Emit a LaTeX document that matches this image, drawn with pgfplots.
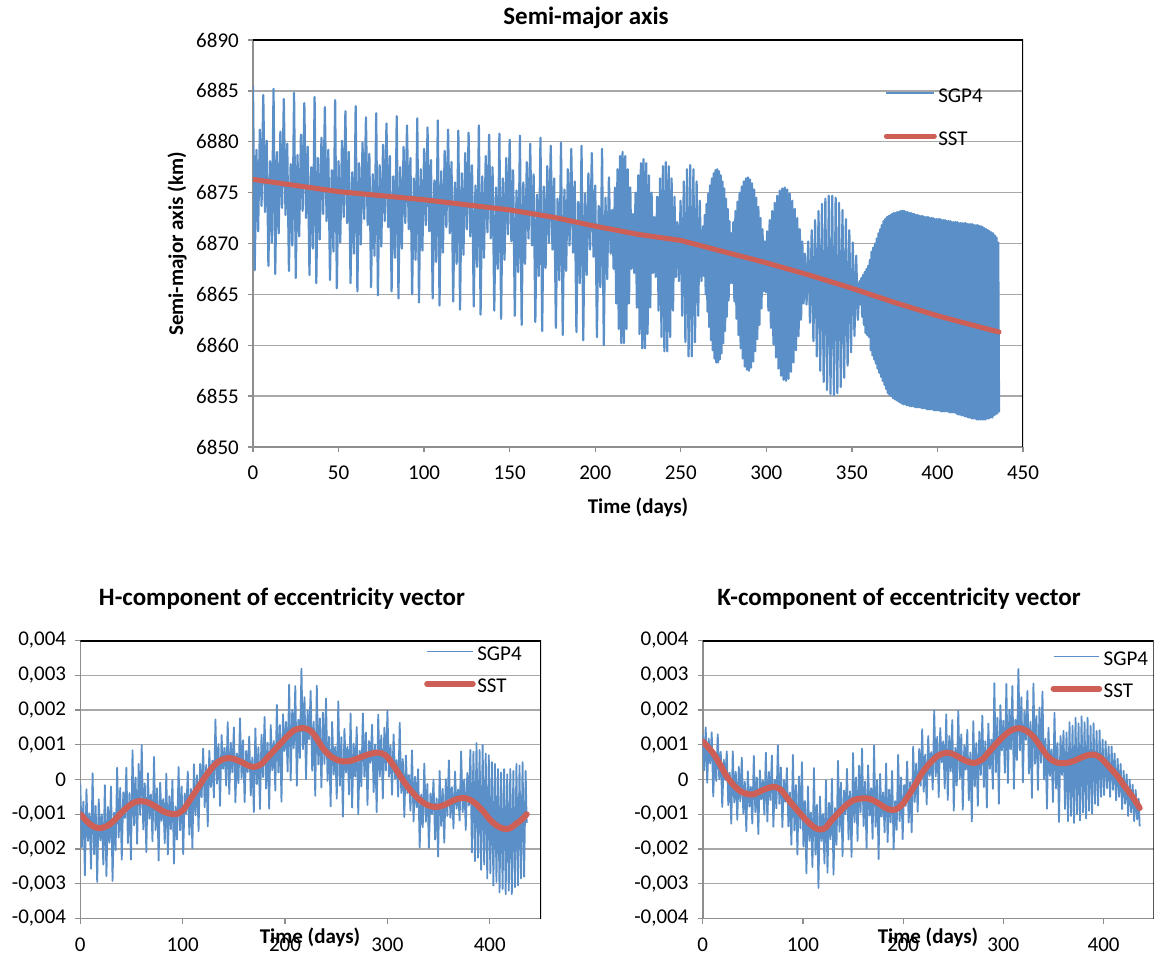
\documentclass[border=0pt]{standalone}
\usepackage{fontspec}
\setmainfont{Carlito}
\usepackage{pgfplots}
\pgfplotsset{compat=1.18}

\definecolor{sgpblue}{HTML}{5A8FC8}
\definecolor{sstred}{HTML}{CD5F57}
\definecolor{gridgray}{HTML}{A8A8A8}
\definecolor{axisgray}{HTML}{8E8E8E}

\newcommand{\ticksize}{\fontsize{21}{24}\selectfont}
\newcommand{\labsize}{\fontsize{21}{24}\selectfont\bfseries}
\newcommand{\titsize}{\fontsize{25}{30}\selectfont\bfseries}

\pgfplotsset{
  excel/.style={
    scale only axis,
    axis x line*=bottom, axis y line*=left,
    axis line style={axisgray, line width=1.6pt},
    tick style={axisgray, line width=1.3pt},
    tick align=outside,
    major tick length=5pt,
    ymajorgrids,
    grid style={gridgray, line width=1.3pt},
    xmin=0, xmax=450,
    scaled ticks=false,
    tick label style={font=\ticksize, inner sep=0pt},
    yticklabel style={xshift=-9pt},
    xticklabel style={yshift=-14pt},
    legend style={draw=none, fill=none, font=\ticksize, inner sep=0pt,
      nodes={inner sep=1.5pt}},
    legend cell align=left,
  },
  sgp/.style={sgpblue, line join=round},
  sst/.style={sstred, line cap=round, line join=round},
}

\begin{document}
\begin{tikzpicture}[x=1pt, y=1pt]
\path[use as bounding box] (0,0) rectangle (1158,959);

% ---------------- semi-major axis ----------------
\begin{axis}[excel,
  at={(253pt,512pt)}, anchor=south west, width=770pt, height=407pt,
  ymin=6850, ymax=6890,
  ytick={6850,6855,6860,6865,6870,6875,6880,6885,6890},
  yticklabels={6850,6855,6860,6865,6870,6875,6880,6885,6890},
  xtick={0,50,100,150,200,250,300,350,400,450},
  xticklabels={0,50,100,150,200,250,300,350,400,450},
  legend style={at={(rel axis cs:0.819,0.885)}, anchor=north west, row sep=25pt},
  legend image code/.code={\draw[#1] (2.5pt,3pt) -- (50.5pt,3pt);},
]
\addplot[sgp, line width=2.2pt] coordinates {
(0,6885.5) (1,6867.4) (2,6879.2) (3,6871.2) (4,6881.2) (5,6873.7)
(6,6884.6) (7,6873.1) (8,6880.1) (9,6867.8) (10,6878.1) (11,6870.1)
(12,6885.2) (13,6867.0) (14,6879.0) (15,6871.0) (16,6881.0) (17,6873.5)
(18,6884.2) (19,6872.8) (20,6879.8) (21,6867.3) (22,6877.8) (23,6869.8)
(24,6884.8) (25,6866.6) (26,6878.7) (27,6870.7) (28,6880.7) (29,6873.2)
(30,6883.8) (31,6872.5) (32,6879.5) (33,6866.9) (34,6877.5) (35,6869.5)
(36,6884.4) (37,6866.1) (38,6878.4) (39,6870.4) (40,6880.4) (41,6872.9)
(42,6883.4) (43,6872.2) (44,6879.2) (45,6866.4) (46,6877.2) (47,6869.2)
(48,6884.1) (49,6865.6) (50,6878.1) (51,6870.1) (52,6880.1) (53,6872.6)
(54,6883.0) (55,6872.0) (56,6879.0) (57,6866.1) (58,6877.0) (59,6869.0)
(60,6883.5) (61,6865.3) (62,6877.9) (63,6869.9) (64,6879.9) (65,6872.4)
(66,6882.4) (67,6871.8) (68,6878.8) (69,6865.7) (70,6876.8) (71,6868.8)
(72,6882.8) (73,6864.9) (74,6877.7) (75,6869.7) (76,6879.7) (77,6872.2)
(78,6881.8) (79,6871.6) (80,6878.6) (81,6865.3) (82,6876.6) (83,6868.6)
(84,6882.5) (85,6864.6) (86,6877.5) (87,6869.5) (88,6879.5) (89,6872.0)
(90,6881.6) (91,6871.4) (92,6878.4) (93,6865.0) (94,6876.4) (95,6868.4)
(96,6882.3) (97,6864.2) (98,6877.3) (99,6869.3) (100,6879.3) (101,6871.8)
(102,6881.4) (103,6871.2) (104,6878.2) (105,6864.6) (106,6876.2) (107,6868.2)
(108,6882.1) (109,6863.9) (110,6877.1) (111,6869.1) (112,6879.1) (113,6871.6)
(114,6881.2) (115,6871.0) (116,6878.0) (117,6864.3) (118,6876.0) (119,6868.0)
(120,6881.1) (121,6863.5) (122,6876.9) (123,6868.9) (124,6878.9) (125,6871.4)
(126,6880.9) (127,6870.7) (128,6877.7) (129,6863.8) (130,6875.7) (131,6867.7)
(132,6881.6) (133,6863.0) (134,6876.6) (135,6868.6) (136,6878.6) (137,6871.1)
(138,6880.7) (139,6870.5) (140,6877.5) (141,6863.4) (142,6875.5) (143,6867.5)
(144,6880.8) (145,6862.6) (146,6876.4) (147,6868.4) (148,6878.4) (149,6870.9)
(150,6880.2) (151,6870.2) (152,6877.2) (153,6862.9) (154,6875.2) (155,6867.2)
(156,6880.6) (157,6862.0) (158,6876.0) (159,6868.0) (160,6878.0) (161,6870.5)
(162,6879.8) (163,6869.8) (164,6876.8) (165,6862.3) (166,6874.8) (167,6866.8)
(168,6880.4) (169,6861.4) (170,6875.6) (171,6867.6) (172,6877.6) (173,6870.1)
(174,6879.6) (175,6869.4) (176,6876.4) (177,6861.7) (178,6874.4) (179,6866.4)
(180,6879.9) (181,6861.0) (182,6875.3) (183,6867.3) (184,6877.3) (185,6869.8)
(186,6879.3) (187,6869.1) (188,6876.1) (189,6861.3) (190,6874.1) (191,6866.1)
(192,6879.6) (193,6860.5) (194,6874.9) (195,6866.9) (196,6876.9) (197,6869.4)
(198,6878.9) (199,6868.7) (200,6875.7) (201,6860.8) (202,6873.7) (203,6865.7)
(204,6879.3) (205,6860.0) (206,6874.5) (207,6866.5) (208,6876.5) (209,6869.0)
(210,6873.3) (210.75,6867.5) (211.5,6875.5) (212.25,6864.1) (213,6877.3) (213.75,6861.6)
(214.5,6878.6) (215.25,6860.2) (216,6879.0) (216.75,6860.2) (217.5,6878.6) (218.25,6861.6)
(219,6877.3) (219.75,6864.1) (220.5,6875.5) (221.25,6867.5)
(222,6872.9) (222.78,6867.1) (223.56,6875.0) (224.34,6863.7) (225.13,6876.7) (225.91,6861.1)
(226.69,6877.9) (227.47,6859.7) (228.25,6878.3) (229.03,6859.7) (229.81,6877.9) (230.59,6861.1)
(231.38,6876.7) (232.16,6863.7) (232.94,6875.0) (233.72,6867.1)
(234.5,6872.6) (235.34,6866.7) (236.19,6874.6) (237.03,6863.4) (237.88,6876.4) (238.72,6860.8)
(239.56,6877.6) (240.41,6859.4) (241.25,6878.0) (242.09,6859.4) (242.94,6877.6) (243.78,6860.8)
(244.63,6876.4) (245.47,6863.4) (246.31,6874.6) (247.16,6866.7)
(248,6872.1) (248.94,6866.3) (249.88,6874.2) (250.81,6862.9) (251.75,6876.1) (252.69,6860.3)
(253.63,6877.3) (254.56,6858.9) (255.5,6877.7) (256.44,6858.9) (257.38,6877.3) (258.31,6860.3)
(259.25,6876.1) (260.19,6862.9) (261.13,6874.2) (262.06,6866.3)
(263.00,6871.7) (263.52,6866.8) (264.03,6872.8) (264.55,6865.0) (265.06,6873.9) (265.58,6863.3)
(266.09,6874.9) (266.61,6861.8) (267.13,6875.7) (267.64,6860.5) (268.16,6876.4) (268.67,6859.5)
(269.19,6876.9) (269.70,6858.7) (270.22,6877.2) (270.73,6858.3) (271.25,6877.3) (271.77,6858.3)
(272.28,6877.1) (272.80,6858.6) (273.31,6876.7) (273.83,6859.2) (274.34,6876.1) (274.86,6860.2)
(275.38,6875.4) (275.89,6861.4) (276.41,6874.4) (276.92,6862.8) (277.44,6873.4) (277.95,6864.4)
(278.47,6872.2) (278.98,6866.1)
(279.50,6871.0) (280.11,6866.1) (280.72,6872.1) (281.33,6864.3) (281.94,6873.2) (282.55,6862.6)
(283.16,6874.1) (283.77,6861.0) (284.38,6875.0) (284.98,6859.7) (285.59,6875.6) (286.20,6858.7)
(286.81,6876.1) (287.42,6857.9) (288.03,6876.4) (288.64,6857.6) (289.25,6876.5) (289.86,6857.5)
(290.47,6876.3) (291.08,6857.8) (291.69,6875.9) (292.30,6858.4) (292.91,6875.3) (293.52,6859.4)
(294.13,6874.5) (294.73,6860.6) (295.34,6873.6) (295.95,6862.0) (296.56,6872.5) (297.17,6863.6)
(297.78,6871.4) (298.39,6865.3)
(299.00,6870.2) (299.73,6865.2) (300.47,6871.2) (301.20,6863.4) (301.94,6872.3) (302.67,6861.7)
(303.41,6873.2) (304.14,6860.1) (304.88,6874.0) (305.61,6858.8) (306.34,6874.7) (307.08,6857.7)
(307.81,6875.2) (308.55,6857.0) (309.28,6875.4) (310.02,6856.6) (310.75,6875.5) (311.48,6856.5)
(312.22,6875.3) (312.95,6856.7) (313.69,6874.9) (314.42,6857.4) (315.16,6874.2) (315.89,6858.3)
(316.63,6873.4) (317.36,6859.5) (318.09,6872.5) (318.83,6860.9) (319.56,6871.4) (320.30,6862.5)
(321.03,6870.2) (321.77,6864.1)
(322.5,6869.0) (323.5,6864.0) (324.5,6870.2) (325.5,6862.2) (326.5,6871.3) (327.5,6860.4)
(328.5,6872.3) (329.5,6858.9) (330.5,6873.2) (331.5,6857.5) (332.5,6873.9) (333.5,6856.4)
(334.5,6874.4) (335.5,6855.6) (336.5,6874.7) (337.5,6855.2) (338.5,6874.7) (339.5,6855.1)
(340.5,6874.5) (341.5,6855.3) (342.5,6874.0) (343.5,6855.9) (344.5,6873.3) (345.5,6856.8)
(346.5,6872.4) (347.5,6858.0) (348.5,6871.3) (349.5,6859.3) (350.5,6870.1) (351.5,6860.9)
(352.5,6868.8) (353.5,6862.5)
(354.5,6866.3) (355,6864.0) (355.5,6866.6) (356,6862.8) (356.5,6866.9) (357,6862.0)
(357.5,6867.2) (358,6861.2) (358.5,6867.5) (359,6861.0) (359.5,6867.8) (360,6860.8)
(360.5,6868.4) (361,6859.5) (361.5,6869.2) (362,6859.0) (362.5,6869.6) (363,6858.6)
(363.5,6870.0) (364,6858.2) (364.5,6870.5) (365,6857.7) (365.5,6871.0) (366,6857.3)
(366.5,6871.4) (367,6856.9) (367.5,6871.8) (368,6856.5) (368.5,6872.2) (369,6856.1)
(369.5,6872.4) (370,6855.7) (370.5,6872.6) (371,6855.3) (371.5,6872.7) (372,6855.1)
(372.5,6872.8) (373,6855.0) (373.5,6872.9) (374,6854.8) (374.5,6873.0) (375,6854.7)
(375.5,6873.0) (376,6854.6) (376.5,6873.1) (377,6854.5) (377.5,6873.1) (378,6854.4)
(378.5,6873.2) (379,6854.3) (379.5,6873.2) (380,6854.2) (380.5,6873.2) (381,6854.2)
(381.5,6873.1) (382,6854.1) (382.5,6873.1) (383,6854.1) (383.5,6873.0) (384,6854.0)
(384.5,6873.0) (385,6854.0) (385.5,6872.9) (386,6854.0) (386.5,6872.9) (387,6853.9)
(387.5,6872.8) (388,6853.9) (388.5,6872.8) (389,6853.9) (389.5,6872.7) (390,6853.9)
(390.5,6872.7) (391,6853.8) (391.5,6872.7) (392,6853.8) (392.5,6872.6) (393,6853.8)
(393.5,6872.6) (394,6853.7) (394.5,6872.6) (395,6853.7) (395.5,6872.5) (396,6853.7)
(396.5,6872.5) (397,6853.7) (397.5,6872.5) (398,6853.6) (398.5,6872.4) (399,6853.6)
(399.5,6872.4) (400,6853.6) (400.5,6872.4) (401,6853.6) (401.5,6872.4) (402,6853.5)
(402.5,6872.3) (403,6853.5) (403.5,6872.3) (404,6853.5) (404.5,6872.3) (405,6853.5)
(405.5,6872.2) (406,6853.5) (406.5,6872.2) (407,6853.4) (407.5,6872.2) (408,6853.4)
(408.5,6872.1) (409,6853.4) (409.5,6872.1) (410,6853.4) (410.5,6872.1) (411,6853.3)
(411.5,6872.1) (412,6853.2) (412.5,6872.0) (413,6853.2) (413.5,6872.0) (414,6853.1)
(414.5,6872.0) (415,6853.1) (415.5,6872.0) (416,6853.0) (416.5,6872.0) (417,6853.0)
(417.5,6871.9) (418,6852.9) (418.5,6871.9) (419,6852.9) (419.5,6871.9) (420,6852.8)
(420.5,6871.9) (421,6852.8) (421.5,6871.8) (422,6852.8) (422.5,6871.8) (423,6852.7)
(423.5,6871.8) (424,6852.7) (424.5,6871.7) (425,6852.7) (425.5,6871.7) (426,6852.7)
(426.5,6871.6) (427,6852.7) (427.5,6871.5) (428,6852.7) (428.5,6871.4) (429,6852.8)
(429.5,6871.3) (430,6852.8) (430.5,6871.2) (431,6852.9) (431.5,6871.1) (432,6852.9)
(432.5,6871.0) (433,6853.1) (433.5,6870.8) (434,6853.2) (434.5,6870.6) (435,6853.3)
(435.5,6870.1) (436,6853.4)
};
\addplot[sst, line width=5pt] coordinates {
(0,6876.3) (25,6875.7) (50,6875.1) (75,6874.7) (100,6874.3) (125,6873.8)
(150,6873.3) (175,6872.6) (200,6871.7) (225,6870.9) (250,6870.3) (275,6869.2)
(300,6868.1) (325,6866.9) (350,6865.6) (375,6864.2) (400,6862.9) (420,6862.0)
(436,6861.3)
};
\legend{SGP4,SST}
\draw[black, line width=2pt] (rel axis cs:0,1) -- (rel axis cs:1,1) -- (rel axis cs:1,0);
\end{axis}

\node[font=\titsize, anchor=base] at (586,934) {Semi-major axis};
\node[font=\labsize, anchor=base] at (638,445) {Time (days)};
\node[font=\labsize, anchor=base, rotate=90] at (183,715) {Semi-major axis (km)};

% ---------------- H component ----------------
\begin{axis}[excel,
  at={(80.3pt,40.5pt)}, anchor=south west, width=460.7pt, height=278pt,
  ymin=-0.004, ymax=0.004,
  ytick={-0.004,-0.003,-0.002,-0.001,0,0.001,0.002,0.003,0.004},
  yticklabels={{-0,004},{-0,003},{-0,002},{-0,001},{0},{0,001},{0,002},{0,003},{0,004}},
  xtick={0,100,200,300,400},
  xticklabels={0,100,200,300,400},
  legend style={at={(rel axis cs:0.746,0.983)}, anchor=north west, row sep=14pt},
  legend image code/.code={\draw[#1] (3pt,3pt) -- (48.6pt,3pt);},
]
\addplot[sgp, line width=1.8pt] coordinates {
(0,-0.00010) (1.5,-0.00195) (3,-0.00064) (4.5,-0.00276) (6,-0.00028) (7.5,-0.00177) (9,-0.00097) (10.5,-0.00257)
(12,0.00018) (13.5,-0.00215) (15,-0.00076) (16.5,-0.00295) (18,-0.00057) (19.5,-0.00175) (21,-0.00100) (22.5,-0.00245)
(24,-0.00016) (25.5,-0.00278) (27,-0.00079) (28.5,-0.00182) (30,-0.00020) (31.5,-0.00292) (33,-0.00095) (34.5,-0.00203)
(36,0.00034) (37.5,-0.00167) (39,-0.00024) (40.5,-0.00231) (42,-0.00037) (43.5,-0.00111) (45,0.00034) (46.5,-0.00183)
(48,-0.00039) (49.5,-0.00231) (51,0.00084) (52.5,-0.00132) (54,0.00006) (55.5,-0.00185) (57,0.00045) (58.5,-0.00102)
(60,0.00099) (61.5,-0.00144) (63,-0.00011) (64.5,-0.00209) (66,0.00018) (67.5,-0.00113) (69,-0.00043) (70.5,-0.00178)
(72,0.00065) (73.5,-0.00146) (75,-0.00025) (76.5,-0.00233) (78,-0.00009) (79.5,-0.00119) (81,-0.00056) (82.5,-0.00183)
(84,0.00017) (85.5,-0.00216) (87,-0.00048) (88.5,-0.00143) (90,-0.00001) (91.5,-0.00242) (93,-0.00078) (94.5,-0.00173)
(96,0.00036) (97.5,-0.00146) (99,-0.00020) (100.5,-0.00215) (102,-0.00040) (103.5,-0.00098) (105,0.00023) (106.5,-0.00159)
(108,-0.00027) (109.5,-0.00198) (111,0.00044) (112.5,-0.00103) (114,0.00012) (115.5,-0.00149) (117,0.00045) (118.5,-0.00051)
(120,0.00089) (121.5,-0.00080) (123,0.00042) (124.5,-0.00135) (126,0.00083) (127.5,-0.00022) (129,0.00054) (130.5,-0.00052)
(132,0.00173) (133.5,-0.00012) (135,0.00102) (136.5,-0.00076) (138,0.00128) (139.5,0.00031) (141,0.00091) (142.5,-0.00018)
(144,0.00165) (145.5,-0.00042) (147,0.00106) (148.5,0.00021) (150,0.00150) (151.5,-0.00066) (153,0.00075) (154.5,-0.00011)
(156,0.00176) (157.5,0.00004) (159,0.00113) (160.5,-0.00065) (162,0.00082) (163.5,0.00021) (165,0.00124) (166.5,-0.00046)
(168,0.00063) (169.5,-0.00094) (171,0.00147) (172.5,-0.00013) (174,0.00093) (175.5,-0.00085) (177,0.00129) (178.5,0.00007)
(180,0.00180) (181.5,-0.00026) (183,0.00106) (184.5,-0.00084) (186,0.00157) (187.5,0.00027) (189,0.00111) (190.5,-0.00032)
(192,0.00215) (193.5,0.00020) (195,0.00157) (196.5,-0.00064) (198,0.00188) (199.5,0.00082) (201,0.00166) (202.5,0.00023)
(204,0.00273) (205.5,-0.00003) (207,0.00200) (208.5,0.00090) (210,0.00269) (211.5,-0.00018) (213,0.00172) (214.5,0.00062)
(216,0.00319) (217.5,0.00087) (219,0.00237) (220.5,0.00001) (222,0.00199) (223.5,0.00116) (225,0.00255) (226.5,0.00025)
(228,0.00166) (229.5,-0.00047) (231,0.00270) (232.5,0.00043) (234,0.00176) (235.5,-0.00023) (237,0.00193) (238.5,0.00045)
(240,0.00233) (241.5,-0.00004) (243,0.00123) (244.5,-0.00077) (246,0.00166) (247.5,0.00014) (249,0.00094) (250.5,-0.00055)
(252,0.00225) (253.5,-0.00018) (255,0.00122) (256.5,-0.00107) (258,0.00146) (259.5,0.00020) (261,0.00095) (262.5,-0.00043)
(264,0.00190) (265.5,-0.00081) (267,0.00103) (268.5,0.00008) (270,0.00151) (271.5,-0.00100) (273,0.00083) (274.5,-0.00020)
(276,0.00190) (277.5,0.00008) (279,0.00135) (280.5,-0.00073) (282,0.00111) (283.5,0.00048) (285,0.00158) (286.5,-0.00036)
(288,0.00101) (289.5,-0.00094) (291,0.00187) (292.5,0.00008) (294,0.00127) (295.5,-0.00055) (297,0.00149) (298.5,0.00026)
(300,0.00198) (301.5,0.00008) (303,0.00098) (304.5,-0.00044) (306,0.00130) (307.5,0.00003) (309,0.00056) (310.5,-0.00050)
(312,0.00163) (313.5,-0.00039) (315,0.00059) (316.5,-0.00108) (318,0.00069) (319.5,-0.00039) (321,0.00013) (322.5,-0.00090)
(324,0.00084) (325.5,-0.00121) (327,0.00008) (328.5,-0.00080) (330,0.00030) (331.5,-0.00196) (333,-0.00043) (334.5,-0.00137)
(336,0.00046) (337.5,-0.00122) (339,-0.00013) (340.5,-0.00197) (342,-0.00040) (343.5,-0.00099) (345,0.00000) (346.5,-0.00173)
(348,-0.00054) (349.5,-0.00222) (351,0.00025) (352.5,-0.00134) (354,-0.00027) (355.5,-0.00182) (357,0.00001) (358.5,-0.00105)
(360,0.00055) (361.5,-0.00110) (363,-0.00022) (364.5,-0.00141) (366,0.00023) (367.5,-0.00084) (369,-0.00029) (370.5,-0.00118)
(372,0.00081) (373.5,-0.00094) (375,0.00000) (376.5,-0.00145) (378,0.00019) (379.5,-0.00075) (381,0.00085) (382.5,-0.00210)
(384,0.00080) (385.5,-0.00235) (387,0.00105) (388.5,-0.00225) (390,0.00085) (391.5,-0.00260) (393,0.00100) (394.5,-0.00245)
(396,0.00075) (397.5,-0.00285) (399,0.00070) (400.5,-0.00270) (402,0.00050) (403.5,-0.00305) (405,0.00045) (406.5,-0.00295)
(408,0.00030) (409.5,-0.00325) (411,0.00020) (412.5,-0.00315) (414,0.00030) (415.5,-0.00330) (417,0.00015) (418.5,-0.00320)
(420,0.00030) (421.5,-0.00330) (423,0.00025) (424.5,-0.00310) (426,0.00045) (427.5,-0.00305) (429,0.00040) (430.5,-0.00285)
(432,0.00050) (433.5,-0.00280) (435,0.00025) (436,-0.00125)
};
\addplot[sst, line width=6pt, smooth] coordinates {
(0,-0.00100) (10,-0.00130) (18,-0.00140) (26,-0.00134) (33,-0.00118) (40,-0.00096) (50,-0.00070) (58,-0.00062)
(66,-0.00066) (73,-0.00077) (82,-0.00093) (91,-0.00100) (96,-0.00097) (101,-0.00086) (108,-0.00055) (116,-0.00019)
(123,0.00012) (130,0.00038) (137,0.00055) (145,0.00062) (152,0.00057) (159,0.00048) (164,0.00040) (170,0.00036)
(177,0.00045) (184,0.00067) (193,0.00095) (202,0.00124) (209,0.00142) (216,0.00148) (222,0.00145) (227,0.00134)
(232,0.00113) (238,0.00086) (245,0.00066) (252,0.00055) (258,0.00052) (263,0.00053) (272,0.00062) (281,0.00072)
(287,0.00076) (292,0.00077) (298,0.00070) (303,0.00053) (310,0.00022) (317,-0.00010) (324,-0.00036) (331,-0.00057)
(338,-0.00072) (346,-0.00079) (353,-0.00076) (360,-0.00067) (366,-0.00058) (373,-0.00053) (379,-0.00056) (386,-0.00069)
(393,-0.00090) (400,-0.00115) (407,-0.00133) (414,-0.00142) (420,-0.00140) (425,-0.00129) (431,-0.00116) (436,-0.00100)
};
\legend{SGP4,SST}
\draw[black, line width=2pt] (rel axis cs:0,1) -- (rel axis cs:1,1) -- (rel axis cs:1,0);
\end{axis}

\node[font=\titsize, anchor=base] at (282,353) {H-component of eccentricity vector};
\node[font=\labsize, anchor=base] at (310,16) {Time (days)};

% ---------------- K component ----------------
\begin{axis}[excel,
  at={(702.7pt,40.5pt)}, anchor=south west, width=451pt, height=278pt,
  ymin=-0.004, ymax=0.004,
  ytick={-0.004,-0.003,-0.002,-0.001,0,0.001,0.002,0.003,0.004},
  yticklabels={{-0,004},{-0,003},{-0,002},{-0,001},{0},{0,001},{0,002},{0,003},{0,004}},
  xtick={0,100,200,300,400},
  xticklabels={0,100,200,300,400},
  legend style={at={(rel axis cs:0.771,0.965)}, anchor=north west, row sep=14pt},
  legend image code/.code={\draw[#1] (3pt,3pt) -- (48.6pt,3pt);},
]
\addplot[sgp, line width=1.8pt] coordinates {
(0,0.00130) (1.5,0.00027) (3,0.00150) (4.5,-0.00009) (6,0.00118) (7.5,0.00046) (9,0.00136) (10.5,-0.00049)
(12,0.00080) (13.5,-0.00004) (15,0.00130) (16.5,0.00001) (18,0.00080) (19.5,-0.00079) (21,0.00057) (22.5,-0.00001)
(24,0.00081) (25.5,-0.00074) (27,0.00020) (28.5,-0.00127) (30,0.00081) (31.5,-0.00066) (33,0.00022) (34.5,-0.00116)
(36,0.00037) (37.5,-0.00063) (39,0.00063) (40.5,-0.00098) (42,-0.00006) (43.5,-0.00149) (45,0.00024) (46.5,-0.00078)
(48,-0.00021) (49.5,-0.00127) (51,0.00068) (52.5,-0.00094) (54,0.00006) (55.5,-0.00157) (57,0.00026) (58.5,-0.00057)
(60,-0.00003) (61.5,-0.00101) (63,0.00077) (64.5,-0.00121) (66,0.00022) (67.5,-0.00059) (69,0.00069) (70.5,-0.00136)
(72,-0.00001) (73.5,-0.00083) (75,0.00098) (76.5,-0.00070) (78,0.00035) (79.5,-0.00137) (81,-0.00002) (82.5,-0.00064)
(84,0.00033) (85.5,-0.00135) (87,-0.00037) (88.5,-0.00188) (90,0.00071) (91.5,-0.00147) (93,-0.00016) (94.5,-0.00216)
(96,0.00009) (97.5,-0.00141) (99,0.00050) (100.5,-0.00193) (102,-0.00062) (103.5,-0.00270) (105,-0.00020) (106.5,-0.00177)
(108,-0.00095) (109.5,-0.00252) (111,0.00033) (112.5,-0.00216) (114,-0.00073) (115.5,-0.00312) (117,-0.00049) (118.5,-0.00177)
(120,-0.00099) (121.5,-0.00242) (123,-0.00002) (124.5,-0.00268) (126,-0.00067) (127.5,-0.00172) (129,0.00002) (130.5,-0.00274)
(132,-0.00082) (133.5,-0.00188) (135,0.00054) (136.5,-0.00150) (138,-0.00009) (139.5,-0.00221) (141,-0.00032) (142.5,-0.00100)
(144,0.00031) (145.5,-0.00173) (147,-0.00034) (148.5,-0.00223) (150,0.00076) (151.5,-0.00123) (153,0.00006) (154.5,-0.00177)
(156,0.00040) (157.5,-0.00095) (159,0.00089) (160.5,-0.00134) (162,-0.00006) (163.5,-0.00199) (165,0.00041) (166.5,-0.00104)
(168,-0.00025) (169.5,-0.00171) (171,0.00098) (172.5,-0.00136) (174,-0.00002) (175.5,-0.00229) (177,0.00016) (178.5,-0.00107)
(180,-0.00037) (181.5,-0.00152) (183,0.00046) (184.5,-0.00180) (186,-0.00029) (187.5,-0.00123) (189,0.00025) (190.5,-0.00201)
(192,-0.00062) (193.5,-0.00145) (195,0.00071) (196.5,-0.00120) (198,0.00006) (199.5,-0.00172) (201,-0.00016) (202.5,-0.00076)
(204,0.00052) (205.5,-0.00124) (207,-0.00007) (208.5,-0.00152) (210,0.00095) (211.5,-0.00065) (213,0.00046) (214.5,-0.00093)
(216,0.00088) (217.5,-0.00018) (219,0.00145) (220.5,-0.00035) (222,0.00072) (223.5,-0.00072) (225,0.00125) (226.5,0.00010)
(228,0.00079) (229.5,-0.00029) (231,0.00199) (232.5,0.00009) (234,0.00123) (235.5,-0.00051) (237,0.00148) (238.5,0.00049)
(240,0.00110) (241.5,-0.00026) (243,0.00188) (244.5,-0.00059) (246,0.00125) (247.5,0.00024) (249,0.00171) (250.5,-0.00090)
(252,0.00091) (253.5,-0.00017) (255,0.00198) (256.5,0.00003) (258,0.00130) (259.5,-0.00087) (261,0.00098) (262.5,0.00028)
(264,0.00143) (265.5,-0.00060) (267,0.00078) (268.5,-0.00121) (270,0.00168) (271.5,-0.00020) (273,0.00105) (274.5,-0.00076)
(276,0.00138) (277.5,0.00013) (279,0.00184) (280.5,-0.00022) (282,0.00110) (283.5,-0.00081) (285,0.00161) (286.5,0.00031)
(288,0.00115) (289.5,-0.00027) (291,0.00277) (292.5,0.00021) (294,0.00178) (295.5,-0.00070) (297,0.00214) (298.5,0.00084)
(300,0.00169) (301.5,0.00019) (303,0.00275) (304.5,-0.00010) (306,0.00201) (307.5,0.00087) (309,0.00269) (310.5,-0.00027)
(312,0.00172) (313.5,0.00056) (315,0.00318) (316.5,0.00084) (318,0.00237) (319.5,-0.00008) (321,0.00196) (322.5,0.00114)
(324,0.00255) (325.5,0.00017) (327,0.00166) (328.5,-0.00053) (330,0.00276) (331.5,0.00045) (333,0.00183) (334.5,-0.00030)
(336,0.00207) (337.5,0.00048) (339,0.00253) (340.5,0.00000) (342,0.00117) (343.5,-0.00084) (345,0.00149) (346.5,0.00010)
(348,0.00086) (349.5,-0.00065) (351,0.00192) (352.5,-0.00026) (354,0.00105) (355.5,-0.00122) (357,0.00125) (358.5,0.00013)
(360,0.00140) (361.5,-0.00085) (363,0.00135) (364.5,-0.00120) (366,0.00165) (367.5,-0.00105) (369,0.00155) (370.5,-0.00125)
(372,0.00178) (373.5,-0.00100) (375,0.00162) (376.5,-0.00118) (378,0.00182) (379.5,-0.00095) (381,0.00165) (382.5,-0.00112)
(384,0.00178) (385.5,-0.00090) (387,0.00155) (388.5,-0.00098) (390,0.00162) (391.5,-0.00070) (393,0.00140) (394.5,-0.00075)
(396,0.00142) (397.5,-0.00050) (399,0.00115) (400.5,-0.00045) (402,0.00110) (403.5,-0.00025) (405,0.00095) (406.5,-0.00050)
(408,0.00095) (409.5,-0.00030) (411,0.00075) (412.5,-0.00060) (414,0.00060) (415.5,-0.00050) (417,0.00045) (418.5,-0.00085)
(420,0.00025) (421.5,-0.00070) (423,0.00015) (424.5,-0.00105) (426,0.00000) (427.5,-0.00095) (429,-0.00015) (430.5,-0.00120)
(432,-0.00030) (433.5,-0.00115) (435,-0.00055) (436,-0.00135)
};
\addplot[sst, line width=6pt, smooth] coordinates {
(0,0.00110) (10,0.00077) (17,0.00045) (24,0.00009) (32,-0.00020) (39,-0.00036) (45,-0.00042) (50,-0.00043)
(56,-0.00036) (61,-0.00029) (67,-0.00023) (72,-0.00021) (78,-0.00030) (83,-0.00048) (90,-0.00074) (98,-0.00100)
(105,-0.00122) (112,-0.00139) (118,-0.00144) (123,-0.00138) (127,-0.00123) (135,-0.00098) (142,-0.00077) (150,-0.00060)
(157,-0.00055) (162,-0.00054) (168,-0.00057) (175,-0.00068) (182,-0.00081) (188,-0.00087) (193,-0.00086) (199,-0.00072)
(205,-0.00048) (212,-0.00015) (219,0.00019) (226,0.00045) (234,0.00067) (240,0.00075) (245,0.00077) (252,0.00070)
(260,0.00057) (266,0.00050) (272,0.00048) (279,0.00058) (285,0.00077) (292,0.00100) (300,0.00124) (308,0.00142)
(316,0.00148) (323,0.00140) (330,0.00123) (337,0.00095) (344,0.00067) (350,0.00053) (355,0.00048) (362,0.00047)
(370,0.00053) (380,0.00066) (388,0.00072) (394,0.00068) (399,0.00057) (406,0.00035) (414,0.00009) (421,-0.00020)
(429,-0.00050) (436,-0.00082)
};
\legend{SGP4,SST}
\draw[black, line width=2pt] (rel axis cs:0,1) -- (rel axis cs:1,1) -- (rel axis cs:1,0);
\end{axis}

\node[font=\titsize, anchor=base] at (899,353) {K-component of eccentricity vector};
\node[font=\labsize, anchor=base] at (928,16) {Time (days)};

\end{tikzpicture}
\end{document}
